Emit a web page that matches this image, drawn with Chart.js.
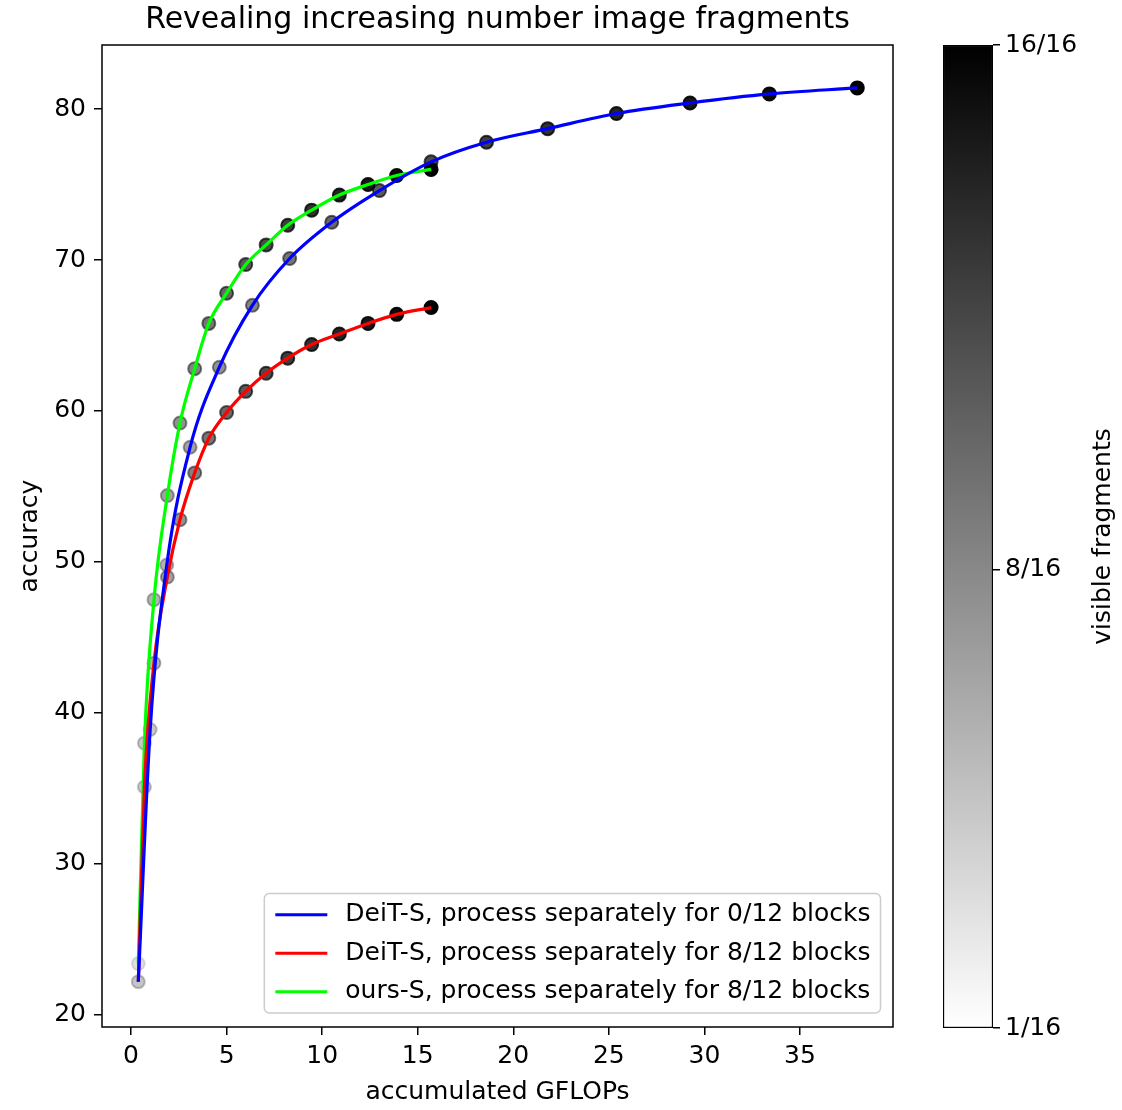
<!DOCTYPE html>
<html>
<head>
<meta charset="utf-8">
<title>Revealing increasing number image fragments</title>
<script src="https://cdn.jsdelivr.net/npm/chart.js@4.4.1/dist/chart.umd.min.js"></script>
<style>
  html, body { margin:0; padding:0; background:#fff; }
  #wrap { position:relative; width:1122px; height:1110px; }
  .pane { position:absolute; top:0; height:1110px; }
</style>
</head>
<body>
<div id="wrap">
  <div class="pane" style="left:0;width:930px"><canvas id="accChart"></canvas></div>
  <div class="pane" style="left:930px;width:192px"><canvas id="cbarChart"></canvas></div>
</div>
<script>
/* ── data ── */
const FRAGMENTS = [1, 2, 3, 4, 5, 6, 7, 8, 9, 10, 11, 12, 13, 14, 15, 16];
const N_FRAGMENTS = 16;

// DeiT-S, every block processes the fragments jointly
const GFLOPS_JOINT = [0.38, 1.0, 1.87, 3.09, 4.62, 6.35, 8.3, 10.5, 13.0, 15.7, 18.6, 21.8, 25.4, 29.25, 33.4, 38.0];
const ACC_DEIT_0   = [22.2, 38.9, 49.8, 57.6, 62.9, 67.0, 70.1, 72.5, 74.6, 76.5, 77.8, 78.7, 79.7, 80.4, 81.0, 81.4];

// first 8/12 blocks process fragments separately
const GFLOPS_SPLIT = [0.38, 0.7, 1.2, 1.9, 2.56, 3.33, 4.07, 5.0, 6.0, 7.07, 8.2, 9.45, 10.9, 12.4, 13.9, 15.7];
const ACC_DEIT_8   = [22.2, 35.1, 43.3, 49.0, 52.8, 55.9, 58.2, 59.9, 61.3, 62.5, 63.5, 64.4, 65.1, 65.8, 66.4, 66.85];
const ACC_OURS_8   = [23.4, 38.0, 47.5, 54.4, 59.2, 62.8, 65.8, 67.8, 69.7, 71.0, 72.3, 73.3, 74.3, 75.0, 75.6, 76.0];

const SERIES_LABELS = [
  'DeiT-S, process separately for 0/12 blocks',
  'DeiT-S, process separately for 8/12 blocks',
  'ours-S, process separately for 8/12 blocks',
];
const SERIES_COLORS = ['#0000ff', '#ff0000', '#00ff00'];

const X_TICKS = [0, 5, 10, 15, 20, 25, 30, 35];
const Y_TICKS = [20, 30, 40, 50, 60, 70, 80];
const CBAR_TICKS = [1, 8, 16];

const TITLE = 'Revealing increasing number image fragments';
const FONT = 'DejaVu Sans';
Chart.defaults.font.family = FONT;
Chart.defaults.font.size = 25;
Chart.defaults.color = '#000';

const SERIES = [
  { label:SERIES_LABELS[0], x:GFLOPS_JOINT, y:ACC_DEIT_0, color:SERIES_COLORS[0] },
  { label:SERIES_LABELS[1], x:GFLOPS_SPLIT, y:ACC_DEIT_8, color:SERIES_COLORS[1] },
  { label:SERIES_LABELS[2], x:GFLOPS_SPLIT, y:ACC_OURS_8, color:SERIES_COLORS[2] },
];

/* grey shade for a number of visible fragments (light -> black) */
function fragColor(k) {
  const t = (k - 1) / (N_FRAGMENTS - 1);
  const a = 0.12 + 0.88 * Math.pow(t, 0.8);
  return `rgba(0,0,0,${a.toFixed(3)})`;
}

const pts = s => s.x.map((v, i) => ({ x:v, y:s.y[i] }));

const lineSets = SERIES.map(s => ({
  label:s.label, data:pts(s), showLine:true, borderColor:s.color, borderWidth:3.2,
  pointRadius:0, cubicInterpolationMode:'monotone', fill:false, order:0,
}));
const dotSets = SERIES.map(s => ({
  label:s.label + ' pts', data:pts(s), showLine:false,
  pointRadius:6.5, pointBorderWidth:2,
  pointBackgroundColor:FRAGMENTS.map(fragColor),
  pointBorderColor:FRAGMENTS.map(fragColor), order:1,
}));

/* ── plugins ── */
const frame = {
  id:'frame',
  afterDraw(chart) {
    const { ctx, chartArea:a } = chart;
    ctx.save();
    ctx.strokeStyle = '#000';
    ctx.lineWidth = 1.5;
    ctx.strokeRect(a.left, a.top, a.right - a.left, a.bottom - a.top);
    // title centred over the axes box
    ctx.font = `30px "${FONT}"`;
    ctx.fillStyle = '#000';
    ctx.textAlign = 'center';
    ctx.textBaseline = 'middle';
    ctx.fillText(TITLE, (a.left + a.right) / 2, a.top - 25);
    ctx.restore();
  }
};

const legendBox = {
  id:'legendBox',
  afterDraw(chart) {
    const { ctx, chartArea:a } = chart;
    const fs = 25, rowH = 38.5, pad = 10, handle = 52, gap = 19;
    ctx.save();
    ctx.font = `${fs}px "${FONT}"`;
    const textW = Math.max(...SERIES.map(s => ctx.measureText(s.label).width));
    const w = pad + handle + gap + textW + pad;
    const h = rowH * SERIES.length + 4;
    const x0 = a.right - 12.5 - w, y0 = a.bottom - 14 - h;
    ctx.beginPath();
    if (ctx.roundRect) ctx.roundRect(x0, y0, w, h, 5); else ctx.rect(x0, y0, w, h);
    ctx.fillStyle = 'rgba(255,255,255,0.8)';
    ctx.fill();
    ctx.strokeStyle = '#cccccc';
    ctx.lineWidth = 1.5;
    ctx.stroke();
    ctx.textBaseline = 'middle';
    ctx.fillStyle = '#000';
    SERIES.forEach((s, i) => {
      const cy = y0 + rowH / 2 + 2 + i * rowH;
      ctx.beginPath();
      ctx.moveTo(x0 + pad + 1, cy);
      ctx.lineTo(x0 + pad + 1 + handle, cy);
      ctx.strokeStyle = s.color;
      ctx.lineWidth = 3.2;
      ctx.stroke();
      ctx.fillText(s.label, x0 + pad + handle + gap, cy);
    });
    ctx.restore();
  }
};

const tickStyle = { display:true, drawOnChartArea:false, drawTicks:true, tickLength:8, color:'#000', lineWidth:1.5 };

new Chart(document.getElementById('accChart'), {
  type:'scatter',
  data:{ datasets:[...lineSets, ...dotSets] },
  options:{
    responsive:true, maintainAspectRatio:false, animation:false,
    layout:{ padding:{ left:0, right:37, top:45, bottom:0 } },
    plugins:{
      legend:{ display:false },
      tooltip:{ enabled:false },
      title:{ display:false },
    },
    scales:{
      x:{
        type:'linear', min:-1.52, max:39.87,
        grid:tickStyle, border:{ display:false },
        afterBuildTicks: sc => { sc.ticks = X_TICKS.map(v => ({ value:v })); },
        afterFit: sc => { sc.height = 83; },
        ticks:{ padding:6, maxRotation:0 },
        title:{ display:true, text:'accumulated GFLOPs', padding:{ top:0, bottom:3 } },
      },
      y:{
        type:'linear', min:19.2, max:84.24,
        grid:tickStyle, border:{ display:false },
        afterBuildTicks: sc => { sc.ticks = Y_TICKS.map(v => ({ value:v })); },
        afterFit: sc => { sc.width = 102; },
        ticks:{ padding:8 },
        title:{ display:true, text:'accuracy', padding:{ top:15, bottom:0 } },
      },
    },
  },
  plugins:[frame, legendBox],
});

/* ── colour bar ── */
const cbarLabel = {
  id:'cbarLabel',
  afterDraw(chart) {
    const { ctx, chartArea:a } = chart;
    ctx.save();
    ctx.translate(chart.width - 19, (a.top + a.bottom) / 2);
    ctx.rotate(-Math.PI / 2);
    ctx.font = `25px "${FONT}"`;
    ctx.fillStyle = '#000';
    ctx.textAlign = 'center';
    ctx.textBaseline = 'middle';
    ctx.fillText('visible fragments', 0, 0);
    ctx.restore();
  }
};

new Chart(document.getElementById('cbarChart'), {
  type:'bar',
  data:{
    labels:[''],
    datasets:[{
      data:[[CBAR_TICKS[0], CBAR_TICKS[CBAR_TICKS.length - 1]]],
      barPercentage:1, categoryPercentage:1,
      borderColor:'#000', borderWidth:1.5, borderSkipped:false,
      backgroundColor: c => {
        const a = c.chart.chartArea;
        if (!a) return '#888';
        const g = c.chart.ctx.createLinearGradient(0, a.bottom, 0, a.top);
        g.addColorStop(0, '#ffffff');
        g.addColorStop(1, '#000000');
        return g;
      },
    }],
  },
  options:{
    responsive:true, maintainAspectRatio:false, animation:false,
    layout:{ padding:{ left:13, right:0, top:45, bottom:82 } },
    plugins:{ legend:{ display:false }, tooltip:{ enabled:false } },
    scales:{
      x:{ display:false },
      y:{
        type:'linear', position:'right', min:1, max:16,
        grid:{ ...tickStyle, tickLength:7 }, border:{ display:false },
        afterBuildTicks: sc => { sc.ticks = CBAR_TICKS.map(v => ({ value:v })); },
        afterFit: sc => { sc.width = 129; },
        ticks:{ padding:5, callback: v => `${v}/${N_FRAGMENTS}` },
      },
    },
  },
  plugins:[cbarLabel],
});
</script>
</body>
</html>
